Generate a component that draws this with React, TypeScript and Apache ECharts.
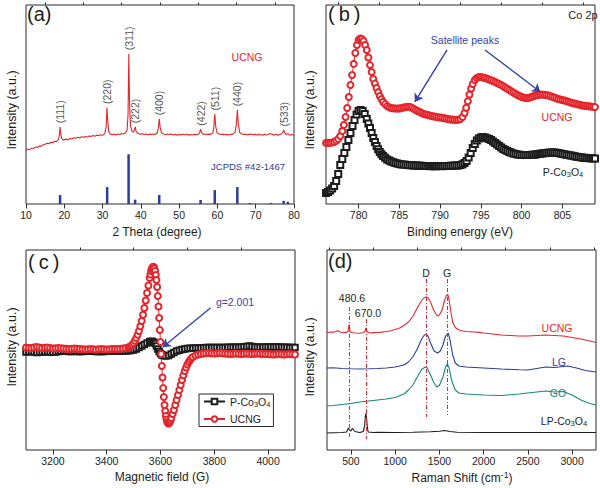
import React, { useEffect, useRef } from 'react';
import * as echarts from 'echarts';

const FONT = '"Liberation Sans", Arial, Helvetica, sans-serif';
const RED = '#e4262c';
const BLACK = '#1c1c1c';
const NAVY = '#2d3c9b';
const ARROW_BLUE = '#3545a6';
const TEAL = '#17877f';
const FRAME = '#2b2b2b';

// ---------- (a) XRD ----------
const xrdAngle = [10, 10.5, 11, 11.5, 12, 12.5, 13, 13.5, 14, 14.5, 15, 15.5, 16, 16.5, 17, 17.5, 18, 18.5, 18.75, 18.9, 19.05, 19.3, 19.8, 20.5, 21, 21.5, 22, 22.5, 23, 23.5, 24, 24.5, 25, 25.5, 26, 26.5, 27, 27.5, 28, 28.5, 29, 29.5, 30, 30.6, 30.95, 31.15, 31.35, 31.6, 32, 32.5, 33, 33.5, 34, 34.5, 35, 35.5, 36, 36.4, 36.65, 36.85, 37.05, 37.3, 37.7, 38.1, 38.4, 38.55, 38.75, 39.2, 39.8, 40.3, 40.8, 41.3, 41.8, 42.3, 42.8, 43.3, 43.8, 44.3, 44.55, 44.8, 45.05, 45.4, 46, 46.5, 47, 47.5, 48, 48.5, 49, 49.5, 50, 50.5, 51, 51.5, 52, 52.5, 53, 53.5, 54, 54.5, 55, 55.35, 55.6, 55.85, 56.3, 56.8, 57.3, 57.8, 58.3, 58.8, 59.05, 59.3, 59.55, 59.9, 60.4, 61, 61.5, 62, 62.5, 63, 63.5, 64, 64.6, 64.95, 65.2, 65.45, 65.8, 66.3, 66.8, 67.3, 67.8, 68.3, 68.8, 69.3, 69.8, 70.3, 70.8, 71.3, 71.8, 72.3, 72.8, 73.3, 73.8, 74.2, 74.8, 75.3, 75.8, 76.3, 76.8, 77.1, 77.3, 77.55, 77.9, 78.4, 78.9, 79.4, 80];
const xrdIntensity = [27.0, 27.6, 27.3, 28.1, 27.9, 28.6, 28.4, 29.2, 29.0, 29.8, 30.0, 30.5, 30.3, 31.0, 30.8, 31.5, 31.4, 32.5, 35, 38.8, 35.5, 33.0, 32.1, 32.6, 32.3, 32.9, 32.7, 33.3, 33.0, 33.6, 33.2, 33.8, 33.5, 33.9, 33.6, 34.2, 33.9, 34.4, 34.0, 34.6, 34.3, 34.8, 34.5, 35.5, 39, 48.5, 42, 36.5, 35.2, 34.8, 35.1, 34.7, 35.2, 34.9, 35.4, 35.2, 35.8, 37, 45, 75.5, 50, 39, 36.5, 36.2, 37.8, 38.8, 36.5, 35.5, 35.0, 35.3, 34.9, 35.2, 34.8, 35.1, 34.9, 35.2, 35.0, 35.8, 38, 42.8, 38.5, 35.8, 35.1, 34.8, 35.2, 34.9, 35.1, 34.7, 35.0, 34.6, 35.0, 34.7, 35.1, 34.8, 35.0, 34.6, 34.9, 34.7, 35.0, 34.8, 35.1, 35.8, 37.6, 35.9, 35.0, 35.2, 34.9, 35.1, 35.0, 35.6, 38.5, 45.2, 39.0, 35.8, 35.2, 34.9, 35.1, 34.8, 35.0, 34.7, 35.0, 35.1, 36.0, 40, 47.3, 40.5, 36, 35.3, 34.9, 35.1, 34.8, 35.0, 35.2, 34.8, 35.0, 34.7, 35.0, 34.8, 34.6, 35.0, 34.7, 34.9, 35.5, 35.0, 34.7, 35.0, 34.6, 34.9, 35.3, 36.2, 37.2, 36.0, 35.0, 35.3, 34.6, 34.9, 34.5];
const refAngle = [18.9, 31.2, 36.8, 38.5, 44.8, 55.6, 59.3, 65.2, 68.5, 74.0, 77.3, 78.4];
const refIntensity = [4.5, 8.5, 25, 2.2, 4.5, 2, 7, 8.5, 0.5, 0.5, 1.6, 1.1];
const peakLabels = ['(111)', '(220)', '(311)', '(222)', '(400)', '(422)', '(511)', '(440)', '(533)'];
const peakAngle = [18.9, 31.15, 36.85, 38.55, 44.8, 55.6, 59.3, 65.2, 77.3];
const xrdTicks = [10, 20, 30, 40, 50, 60, 70, 80];
const xrdMinor = [15, 25, 35, 45, 55, 65, 75];

// ---------- (b) XPS Co 2p ----------
const xpsUcng: number[][] = [[776,30.7],[776.25,30.8],[776.5,30.7],[776.75,30.9],[777,31.2],[777.25,31.8],[777.5,32.7],[777.75,34.2],[778,36.7],[778.2,39.7],[778.4,43.7],[778.6,48.2],[778.8,53.8],[779,59.8],[779.2,64.8],[779.4,70.4],[779.6,75.9],[779.8,79.9],[780,82.4],[780.2,83.2],[780.4,82.9],[780.6,81.9],[780.8,79.9],[781,77.4],[781.2,73.6],[781.4,69.8],[781.6,66.3],[781.8,62.8],[782,60.5],[782.2,58.3],[782.4,56.2],[782.6,54.3],[782.8,52.7],[783,51.3],[783.25,50.2],[783.5,49.2],[783.75,48.6],[784,48.2],[784.25,48.1],[784.5,48.0],[784.75,48.0],[785,48.0],[785.25,48.2],[785.5,48.5],[785.75,48.7],[786,48.8],[786.25,48.8],[786.5,48.5],[786.75,47.9],[787,47.2],[787.25,46.7],[787.5,46.2],[787.75,45.7],[788,45.2],[788.25,45.0],[788.5,44.7],[788.75,44.4],[789,44.2],[789.25,44.0],[789.5,43.8],[789.75,43.6],[790,43.5],[790.25,43.3],[790.5,43.1],[790.75,42.9],[791,42.7],[791.25,42.5],[791.5,42.4],[791.75,42.3],[792,42.2],[792.25,42.3],[792.5,42.7],[792.75,43.7],[793,45.7],[793.2,48.4],[793.4,51.6],[793.6,55.0],[793.8,58.0],[794,60.3],[794.25,62.3],[794.5,63.3],[794.75,63.8],[795,63.8],[795.25,63.6],[795.5,63.3],[795.75,63.0],[796,62.6],[796.25,62.2],[796.5,61.8],[796.75,61.3],[797,60.8],[797.25,60.3],[797.5,59.8],[797.75,59.2],[798,58.5],[798.25,57.9],[798.5,57.3],[798.75,56.6],[799,56.0],[799.25,55.4],[799.5,54.8],[799.75,54.3],[800,53.8],[800.25,53.5],[800.5,53.3],[800.75,53.3],[801,53.5],[801.25,53.9],[801.5,54.3],[801.75,54.6],[802,54.8],[802.25,55.0],[802.5,55.0],[802.75,54.9],[803,54.8],[803.25,54.6],[803.5,54.3],[803.75,53.9],[804,53.5],[804.25,53.1],[804.5,52.8],[804.75,52.5],[805,52.3],[805.25,52.0],[805.5,51.8],[805.75,51.4],[806,51.0],[806.25,50.7],[806.5,50.5],[806.75,50.2],[807,50.0],[807.25,49.7],[807.5,49.5],[807.75,49.3],[808,49.2],[808.25,49.1],[808.5,49.0],[808.75,48.8],[809,48.7]];
const xpsPCo: number[][] = [[776,5.5],[776.25,6.0],[776.5,6.8],[776.75,7.8],[777,9.0],[777.25,11.6],[777.5,15.1],[777.75,19.6],[778,22.6],[778.25,25.6],[778.5,28.6],[778.75,32.2],[779,35.7],[779.25,39.2],[779.5,42.2],[779.75,45.0],[780,46.7],[780.25,47.2],[780.5,46.7],[780.75,45.2],[781,42.7],[781.2,40.5],[781.4,38.2],[781.6,35.7],[781.8,33.2],[782,31.1],[782.2,29.1],[782.4,27.5],[782.6,26.1],[782.8,25.0],[783,24.1],[783.25,23.2],[783.5,22.4],[783.75,21.9],[784,21.4],[784.25,21.0],[784.5,20.6],[784.75,20.3],[785,20.1],[785.25,19.9],[785.5,19.8],[785.75,19.7],[786,19.6],[786.25,19.5],[786.5,19.5],[786.75,19.4],[787,19.3],[787.25,19.3],[787.5,19.2],[787.75,19.2],[788,19.1],[788.25,19.1],[788.5,19.1],[788.75,19.0],[789,19.1],[789.25,19.0],[789.5,19.0],[789.75,19.1],[790,19.1],[790.25,19.0],[790.5,19.1],[790.75,19.1],[791,19.1],[791.25,19.2],[791.5,19.2],[791.75,19.3],[792,19.3],[792.25,19.4],[792.5,19.6],[792.75,20.0],[793,20.6],[793.25,21.6],[793.5,23.4],[793.75,25.6],[794,28.1],[794.25,30.2],[794.5,31.9],[794.75,32.9],[795,33.4],[795.25,33.7],[795.5,33.4],[795.75,33.1],[796,32.7],[796.25,32.1],[796.5,31.4],[796.75,30.7],[797,29.9],[797.25,29.1],[797.5,28.4],[797.75,27.7],[798,27.1],[798.25,26.6],[798.5,26.1],[798.75,25.7],[799,25.4],[799.25,25.1],[799.5,24.9],[799.75,24.7],[800,24.6],[800.25,24.6],[800.5,24.6],[800.75,24.6],[801,24.6],[801.25,24.7],[801.5,24.8],[801.75,24.9],[802,25.1],[802.25,25.2],[802.5,25.4],[802.75,25.5],[803,25.6],[803.25,25.8],[803.5,25.9],[803.75,25.9],[804,25.9],[804.25,25.8],[804.5,25.6],[804.75,25.4],[805,25.1],[805.25,25.0],[805.5,24.8],[805.75,24.6],[806,24.4],[806.25,24.2],[806.5,24.0],[806.75,23.8],[807,23.6],[807.25,23.5],[807.5,23.3],[807.75,23.2],[808,23.1],[808.25,23.0],[808.5,23.0],[808.75,22.9],[809,22.9]];
const xpsTicks = [780, 785, 790, 795, 800, 805];
const xpsMinor = [777.5, 782.5, 787.5, 792.5, 797.5, 802.5, 807.5];
const satelliteArrows = [[[790.85, 77.4], [786.9, 51.3]], [[795.5, 77.4], [802.3, 56.3]]];

// ---------- (c) EPR ----------
const eprUcng: number[][] = [[3100,102.5],[3110,102.2],[3120,102],[3130,102.6],[3140,103],[3150,102.4],[3160,102],[3170,102.3],[3180,102.5],[3190,102],[3200,101.5],[3210,101.8],[3220,102],[3230,101.7],[3240,101.5],[3250,101.2],[3260,101],[3270,101.3],[3280,101.5],[3290,101.2],[3300,101],[3310,100.8],[3320,100.5],[3330,100.8],[3340,101],[3350,100.7],[3360,100.5],[3370,100.8],[3380,101],[3390,100.7],[3400,100.5],[3410,100.8],[3420,101],[3430,101],[3440,101],[3450,101.2],[3460,101.5],[3470,102],[3480,102.5],[3485,103.2],[3490,104],[3495,105.3],[3500,107],[3505,109.3],[3510,112],[3515,115.3],[3520,119],[3525,123.8],[3530,129],[3535,135.3],[3540,142],[3545,149.5],[3550,157],[3555,164.5],[3560,172],[3562.5,175.5],[3565,179],[3567.5,181],[3570,182.5],[3572.5,183.2],[3575,183],[3577.5,181.5],[3580,179],[3582.5,175],[3585,170],[3587.5,163],[3590,154],[3592.5,143.5],[3595,132],[3597.5,120],[3600,108],[3602.5,96],[3605,84],[3607.5,72.5],[3610,62],[3612.5,53],[3615,45],[3617.5,39],[3620,34],[3622.5,30.5],[3625,28],[3627.5,27],[3630,26.5],[3632.5,27],[3635,28],[3637.5,29.8],[3640,32],[3645,36],[3650,40],[3655,45],[3660,50],[3665,55],[3670,60],[3675,65],[3680,70],[3685,74.7],[3690,79],[3695,82.5],[3700,85.5],[3705,88],[3710,90],[3715,91.7],[3720,93],[3730,94.5],[3740,95.5],[3750,96],[3760,96.5],[3770,96.8],[3780,97],[3790,96.8],[3800,96.5],[3810,96.8],[3820,97],[3830,96.7],[3840,96.5],[3850,96.2],[3860,96],[3870,96.3],[3880,96.5],[3890,96.2],[3900,96],[3910,96.3],[3920,96.5],[3930,96.2],[3940,96],[3950,96.2],[3960,96.5],[3970,96.2],[3980,96],[3990,96],[4000,96],[4010,95.7],[4020,95.5],[4030,95.8],[4040,96],[4050,95.8],[4060,95.5],[4070,95.7],[4080,96],[4090,95.7],[4100,95.5]];
const eprPCo: number[][] = [[3100,98],[3110,98.3],[3120,98.5],[3130,98],[3140,97.5],[3150,97.8],[3160,98],[3170,98.2],[3180,98.3],[3190,98],[3200,97.8],[3210,98.1],[3220,98.5],[3230,98.8],[3240,99],[3250,98.7],[3260,98.5],[3270,98.6],[3280,98.8],[3290,98.6],[3300,98.5],[3310,98.6],[3320,98.7],[3330,98.8],[3340,98.8],[3350,98.7],[3360,98.6],[3370,98.5],[3380,98.5],[3390,98.6],[3400,98.7],[3410,98.8],[3420,98.8],[3430,98.9],[3440,98.9],[3450,99],[3460,99],[3470,99.1],[3480,99.3],[3490,99.6],[3500,100],[3510,101],[3520,102.5],[3530,104],[3540,105.5],[3550,107],[3560,108.3],[3565,108.7],[3570,108.5],[3575,107.8],[3580,106.5],[3585,104],[3590,101],[3595,98.5],[3600,96.5],[3605,95.3],[3610,94.5],[3620,94],[3630,94.5],[3640,96],[3650,97.5],[3660,99],[3670,99.8],[3680,100.5],[3690,101],[3700,101.5],[3710,101.7],[3720,101.8],[3730,101.9],[3740,102],[3750,102.1],[3760,102.2],[3770,102.4],[3780,102.5],[3790,102.4],[3800,102.4],[3810,102.5],[3820,102.5],[3830,102.6],[3840,102.6],[3850,102.7],[3860,102.8],[3870,102.7],[3880,102.7],[3890,102.8],[3900,103],[3910,103.2],[3920,103.5],[3930,104],[3940,103.5],[3950,103],[3960,102.9],[3970,102.8],[3980,102.8],[3990,102.9],[4000,103],[4010,103],[4020,103],[4030,102.9],[4040,102.9],[4050,102.8],[4060,102.8],[4070,102.7],[4080,102.6],[4090,102.5],[4100,102.5]];
const eprTicks = [3200, 3400, 3600, 3800, 4000];
const eprMinor = [3300, 3500, 3700, 3900];
const gArrow = [[3786.6, 142.3], [3608, 102.7]];

// ---------- (d) Raman ----------
const ramanUcng: number[][] = [[230,117.5],[270,118],[300,117.8],[330,118.5],[350,119.2],[380,118],[420,117.3],[450,117.6],[468,118.5],[476,124],[481,125.5],[486,121],[494,118],[520,117.3],[560,117],[600,116.8],[640,117.3],[660,118.5],[665,121],[670,122],[676,120],[684,118],[720,117],[760,117.4],[800,117.5],[850,117.9],[900,118.5],[950,119.3],[1000,120.5],[1050,122],[1100,124.5],[1150,128],[1200,133.5],[1250,142],[1300,149.5],[1330,152.5],[1350,153],[1370,152.5],[1400,148],[1430,141],[1460,136],[1480,134],[1500,135],[1530,140],[1560,150],[1580,154.5],[1595,155.5],[1610,150],[1630,138],[1650,128],[1680,122.5],[1720,120],[1760,119.2],[1800,118.5],[1850,118.3],[1900,118],[1950,117.6],[2000,117],[2100,116],[2200,115],[2300,114.5],[2400,114],[2500,114],[2600,114.5],[2700,115],[2800,114.5],[2900,114],[3000,112.5],[3100,111],[3200,109],[3270,107.5]];
const ramanLG: number[][] = [[230,82],[300,82.3],[400,81.5],[500,81.2],[600,81],[700,81.2],[800,81.5],[900,82],[1000,83],[1100,85],[1150,88],[1200,93],[1250,101],[1300,111],[1330,115],[1350,115.5],[1370,114],[1400,107],[1440,99],[1480,97],[1510,99],[1540,105],[1570,114],[1600,117],[1620,110],[1650,95],[1680,87],[1720,84],[1800,83],[1900,82.5],[2000,82],[2200,81],[2400,80.2],[2500,80],[2600,81.5],[2700,83],[2800,82.5],[2900,83.5],[2950,84],[3050,82],[3150,79.5],[3270,78]];
const ramanGO: number[][] = [[230,44],[300,44.5],[400,45.5],[500,46.5],[600,48],[700,49],[800,50],[900,51],[1000,52.5],[1100,56],[1150,60],[1200,65],[1250,73],[1300,80.5],[1340,83],[1360,82.5],[1400,75],[1440,67],[1470,63],[1500,64.5],[1540,73],[1570,83],[1590,86],[1610,82],[1640,69],[1680,60],[1720,57],[1800,56],[2000,55],[2200,54.5],[2400,56],[2600,58],[2700,59],[2800,58],[2900,58.5],[3000,55],[3100,50],[3200,46.5],[3270,45]];
const ramanLP: number[][] = [[230,17],[300,17.3],[400,17.5],[450,18],[465,20.5],[472,22],[480,20.5],[490,19.5],[500,19],[512,21],[520,21.5],[530,20],[545,18.5],[600,17.5],[640,18.5],[655,24],[662,33],[670,37],[677,32],[684,24],[695,18],[750,17.5],[800,17.6],[1000,17.5],[1200,17.8],[1400,18.3],[1500,18.8],[1560,19.5],[1620,18.5],[1700,17.8],[2000,17.5],[2500,17.5],[3000,17.5],[3270,17.5]];
const ramanTicks = [500, 1000, 1500, 2000, 2500, 3000];
const ramanMinor = [250, 750, 1250, 1750, 2250, 2750, 3250];
const ramanGuideShift = [480.6, 670.0, 1350, 1590];
const ramanGuideTop = [143, 131, 171, 171];
const ramanGuideBottom = [11, 11, 33, 35];

function xAxesFor(gi: number, min: number, max: number, majors: number[], minors: number[]) {
  return [
    {
      type: 'value', gridIndex: gi, min, max,
      axisLine: { show: false }, splitLine: { show: false },
      axisTick: { show: true, customValues: majors, length: 4.5, lineStyle: { color: FRAME, width: 1 } },
      axisLabel: {
        show: true, customValues: majors, margin: 5, fontSize: 10.5, color: '#1e1e1e', fontFamily: FONT,
        formatter: (v: number) => String(v),
      },
    },
    {
      type: 'value', gridIndex: gi, min, max,
      axisLine: { show: false }, splitLine: { show: false },
      axisTick: { show: true, customValues: minors, length: 2.5, lineStyle: { color: FRAME, width: 1 } },
      axisLabel: { show: false },
    },
  ];
}

function yAxisFor(gi: number, max: number) {
  return {
    type: 'value', gridIndex: gi, min: 0, max,
    axisLine: { show: false }, axisTick: { show: false }, axisLabel: { show: false }, splitLine: { show: false },
  };
}

function richFor(color: string, size: number) {
  return {
    s: { fontSize: size * 0.72, lineHeight: 7, verticalAlign: 'bottom', fill: color, color, fontFamily: FONT },
    u: { fontSize: size * 0.72, lineHeight: 7, verticalAlign: 'top', fill: color, color, fontFamily: FONT },
  };
}

function txt(x: number, y: number, text: string, opt: { color?: string; size?: number; align?: string; rot?: number } = {}) {
  const color = opt.color || '#1e1e1e';
  const size = opt.size || 10.5;
  return {
    type: 'text', x, y, silent: true, rotation: opt.rot || 0,
    style: {
      text, fill: color, fontSize: size, fontFamily: FONT, lineHeight: size + 3,
      align: opt.align || 'center', verticalAlign: 'middle', rich: richFor(color, size),
    },
  };
}

export default function App() {
  const ref = useRef<HTMLDivElement>(null);
  useEffect(() => {
    if (!ref.current) return;
    const chart = echarts.init(ref.current, null, { renderer: 'svg' });

    const peakTop = peakAngle.map((a) => {
      let best = 0;
      xrdAngle.forEach((x, i) => { if (Math.abs(x - a) < 0.3 && xrdIntensity[i] > best) best = xrdIntensity[i]; });
      return [a, best];
    });

    const grid = [
      { left: 26, top: 5, width: 268, height: 199 },
      { left: 326, top: 5, width: 269, height: 199 },
      { left: 26, top: 250, width: 269, height: 200 },
      { left: 327, top: 250, width: 269, height: 200 },
    ].map((g) => ({ ...g, show: true, borderColor: FRAME, borderWidth: 1, backgroundColor: 'transparent', containLabel: false }));

    const option: any = {
      animation: false,
      backgroundColor: '#ffffff',
      textStyle: { fontFamily: FONT },
      grid,
      xAxis: [
        ...xAxesFor(0, 10, 80, xrdTicks, xrdMinor),
        ...xAxesFor(1, 776, 809, xpsTicks, xpsMinor),
        ...xAxesFor(2, 3100, 4100, eprTicks, eprMinor),
        ...xAxesFor(3, 230, 3270, ramanTicks, ramanMinor),
      ],
      yAxis: [yAxisFor(0, 100), yAxisFor(1, 100), yAxisFor(2, 200), yAxisFor(3, 200)],
      legend: {
        data: ['P-Co3O4', 'UCNG'],
        orient: 'vertical', left: 199, top: 394,
        borderColor: FRAME, borderWidth: 1, padding: [2, 3, 2, 4], itemGap: 5,
        itemWidth: 21, itemHeight: 7, selectedMode: false,
        formatter: (n: string) => (n === 'P-Co3O4' ? '{a|P-Co}{s|3}{a|O}{s|4}' : '{a|UCNG}'),
        textStyle: {
          color: '#1e1e1e', fontFamily: FONT, fontSize: 10.5,
          rich: {
            a: { fontSize: 10.5, lineHeight: 14, color: '#1e1e1e', fontFamily: FONT },
            s: { fontSize: 7.5, lineHeight: 7, verticalAlign: 'bottom', color: '#1e1e1e', fontFamily: FONT },
          },
        },
      },
      series: [
        {
          name: 'XRD UCNG', type: 'line', xAxisIndex: 0, yAxisIndex: 0, showSymbol: false,
          data: xrdAngle.map((a, i) => [a, xrdIntensity[i]]),
          lineStyle: { color: RED, width: 1.1 }, itemStyle: { color: RED }, silent: true,
        },
        {
          name: 'JCPDS', type: 'bar', xAxisIndex: 0, yAxisIndex: 0, barWidth: 2.5,
          data: refAngle.map((a, i) => [a, refIntensity[i]]),
          itemStyle: { color: NAVY }, silent: true,
        },
        {
          name: 'peaks', type: 'scatter', xAxisIndex: 0, yAxisIndex: 0, symbolSize: 1,
          data: peakTop, itemStyle: { color: 'rgba(0,0,0,0)' }, silent: true,
          label: {
            show: true, position: 'top', distance: 3, rotate: 90, align: 'left', verticalAlign: 'middle',
            formatter: (p: any) => peakLabels[p.dataIndex], fontSize: 10.5, color: '#1e1e1e', fontFamily: FONT,
          },
        },
        {
          name: 'XPS UCNG', type: 'line', xAxisIndex: 2, yAxisIndex: 1, data: xpsUcng,
          symbol: 'emptyCircle', symbolSize: 6, showSymbol: true,
          lineStyle: { color: RED, width: 1 }, itemStyle: { color: RED, borderWidth: 1 }, silent: true,
          markLine: {
            silent: true, symbol: ['none', 'arrow'], symbolSize: 8,
            lineStyle: { color: ARROW_BLUE, width: 1.4, type: 'solid' }, label: { show: false },
            data: satelliteArrows.map((a) => [{ coord: a[0] }, { coord: a[1] }]),
          },
        },
        {
          name: 'XPS P-Co3O4', type: 'line', xAxisIndex: 2, yAxisIndex: 1, data: xpsPCo,
          symbol: 'emptyRect', symbolSize: 6, showSymbol: true,
          lineStyle: { color: BLACK, width: 1 }, itemStyle: { color: BLACK, borderWidth: 1 }, silent: true,
        },
        {
          name: 'P-Co3O4', type: 'line', xAxisIndex: 4, yAxisIndex: 2, data: eprPCo,
          symbol: 'emptyRect', symbolSize: 5.5, showSymbol: true,
          lineStyle: { color: BLACK, width: 1.2 }, itemStyle: { color: BLACK, borderWidth: 1 }, silent: true,
        },
        {
          name: 'UCNG', type: 'line', xAxisIndex: 4, yAxisIndex: 2, data: eprUcng,
          symbol: 'emptyCircle', symbolSize: 6, showSymbol: true,
          lineStyle: { color: RED, width: 1 }, itemStyle: { color: RED, borderWidth: 1 }, silent: true,
          markLine: {
            silent: true, symbol: ['none', 'arrow'], symbolSize: 8,
            lineStyle: { color: ARROW_BLUE, width: 1.4, type: 'solid' }, label: { show: false },
            data: [[{ coord: gArrow[0] }, { coord: gArrow[1] }]],
          },
        },
        {
          name: 'Raman GO', type: 'line', xAxisIndex: 6, yAxisIndex: 3, data: ramanGO, showSymbol: false,
          lineStyle: { color: TEAL, width: 1.1 }, silent: true,
        },
        {
          name: 'Raman LG', type: 'line', xAxisIndex: 6, yAxisIndex: 3, data: ramanLG, showSymbol: false,
          lineStyle: { color: NAVY, width: 1.1 }, silent: true,
        },
        {
          name: 'Raman UCNG', type: 'line', xAxisIndex: 6, yAxisIndex: 3, data: ramanUcng, showSymbol: false,
          lineStyle: { color: RED, width: 1.1 }, silent: true,
        },
        {
          name: 'Raman LP', type: 'line', xAxisIndex: 6, yAxisIndex: 3, data: ramanLP, showSymbol: false,
          lineStyle: { color: BLACK, width: 1.1 }, silent: true,
          markLine: {
            silent: true, symbol: ['none', 'none'],
            lineStyle: { color: RED, width: 1, type: [4, 2, 1, 2] }, label: { show: false },
            data: ramanGuideShift.map((s, i) => [{ coord: [s, ramanGuideTop[i]] }, { coord: [s, ramanGuideBottom[i]] }]),
          },
        },
      ],
      graphic: [
        txt(27, 14, '(a)', { size: 20, align: 'left' }),
        txt(247, 57, 'UCNG', { color: RED, size: 10.5 }),
        txt(248, 166, 'JCPDS #42-1467', { color: NAVY, size: 9.5 }),
        txt(12, 110, 'Intensity (a.u.)', { size: 12.5, rot: Math.PI / 2 }),
        txt(157, 232, '2 Theta (degree)', { size: 12 }),

        txt(328, 14, '(\u2009b\u2009)', { size: 20, align: 'left' }),
        txt(583, 15, 'Co 2p', { size: 11 }),
        txt(465, 40, 'Satellite peaks', { color: ARROW_BLUE, size: 10.5 }),
        txt(557, 117, 'UCNG', { color: RED, size: 10.5 }),
        txt(563, 172, 'P-Co{s|3}O{s|4}', { size: 10.5 }),
        txt(310, 110, 'Intensity (a.u.)', { size: 12.5, rot: Math.PI / 2 }),
        txt(460, 232, 'Binding energy (eV)', { size: 12 }),

        txt(28, 262, '(\u2009c\u2009)', { size: 20, align: 'left' }),
        txt(235, 302, 'g=2.001', { color: ARROW_BLUE, size: 10.5 }),
        txt(12, 347, 'Intensity (a.u.)', { size: 12.5, rot: Math.PI / 2 }),
        txt(162, 477, 'Magnetic field (G)', { size: 12 }),

        txt(328, 261, '(d)', { size: 20, align: 'left' }),
        txt(352, 298, '480.6', { size: 10.5 }),
        txt(368, 313, '670.0', { size: 10.5 }),
        txt(426, 273, 'D', { size: 10.5 }),
        txt(447, 273, 'G', { size: 10.5 }),
        txt(557, 328, 'UCNG', { color: RED, size: 10.5 }),
        txt(559, 362, 'LG', { color: NAVY, size: 10.5 }),
        txt(558, 393, 'GO', { color: TEAL, size: 10.5 }),
        txt(564, 421, 'LP-Co{s|3}O{s|4}', { size: 10.5 }),
        txt(310, 357, 'Intensity (a.u.)', { size: 12.5, rot: Math.PI / 2 }),
        txt(462, 478, 'Raman Shift (cm{u|-1})', { size: 12 }),
      ],
    };

    chart.setOption(option);
    return () => chart.dispose();
  }, []);

  return <div ref={ref} style={{ position: 'fixed', left: 0, top: 0, width: 600, height: 488, background: '#fff' }} />;
}
